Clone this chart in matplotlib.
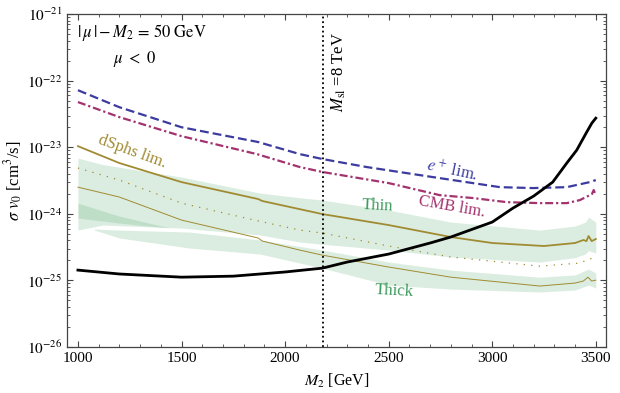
import numpy as np
import matplotlib
matplotlib.use('Agg')
import matplotlib.pyplot as plt
from matplotlib.ticker import MultipleLocator, FixedLocator, FixedFormatter

plt.rcParams['font.family'] = 'serif'
plt.rcParams['font.serif'] = ['Liberation Serif', 'DejaVu Serif']
plt.rcParams['mathtext.fontset'] = 'stix'

# --- data (M2 in GeV, sigma v in cm^3/s) ---
m_pos = [1000, 1200, 1500, 1870, 2071, 2182, 2394, 2713, 3037, 3196, 3360, 3471, 3500]
pos_lim = [7.2e-23, 4.0e-23, 2.0e-23, 1.2e-23, 7.9e-24, 6.65e-24, 5.05e-24, 3.57e-24,
           2.52e-24, 2.44e-24, 2.52e-24, 3.0e-24, 3.22e-24]

m_cmb = [1000, 1200, 1500, 1864, 2071, 2182, 2500, 2747, 2906, 3070, 3230, 3360, 3423,
         3462, 3481, 3490, 3500]
cmb_lim = [4.78e-23, 2.84e-23, 1.47e-23, 7.9e-24, 5.05e-24, 4.25e-24, 2.9e-24, 1.91e-24,
           1.73e-24, 1.5e-24, 1.45e-24, 1.45e-24, 1.61e-24, 1.85e-24, 1.98e-24, 2.28e-24, 1.9e-24]

m_dsph = [1000, 1200, 1500, 1870, 1890, 2180, 2500, 2800, 3000, 3250, 3400, 3440, 3455,
          3465, 3480, 3500]
dsph_lim = [1.04e-23, 5.8e-24, 3.0e-24, 1.67e-24, 1.56e-24, 9.93e-25, 6.79e-25, 4.49e-25,
            3.65e-25, 3.29e-25, 3.65e-25, 4.05e-25, 3.9e-25, 4.65e-25, 3.9e-25, 4.19e-25]

m_dot = [1000, 1200, 1500, 1830, 2070, 2180, 2500, 2800, 3230, 3420, 3470, 3500]
dsph_mid = [4.88e-24, 3.22e-24, 1.45e-24, 8.36e-25, 5.71e-25, 5.15e-25, 3.29e-25, 2.25e-25,
            1.64e-25, 1.82e-25, 2.09e-25, 2.25e-25]

m_low = [1000, 1200, 1500, 1870, 1890, 2070, 2180, 2500, 2800, 3230, 3400, 3440, 3462,
         3480, 3500]
dsph_low = [2.52e-24, 1.79e-24, 8.07e-25, 4.34e-25, 3.91e-25, 2.86e-25, 2.4e-25, 1.59e-25,
            1.12e-25, 8.24e-26, 9.14e-26, 9.8e-26, 1.12e-25, 9.8e-26, 1.01e-25]

m_wino = [1000, 1200, 1500, 1750, 2000, 2180, 2300, 2500, 2700, 2800, 3000, 3100, 3200,
          3292, 3360, 3408, 3456, 3481, 3500]
sigv = [1.43e-25, 1.25e-25, 1.12e-25, 1.16e-25, 1.34e-25, 1.53e-25, 1.89e-25, 2.49e-25,
        3.65e-25, 4.49e-25, 7.53e-25, 1.22e-24, 1.85e-24, 3.0e-24, 5.8e-24, 9.08e-24,
        1.69e-23, 2.31e-23, 2.74e-23]

# "Thin" halo band
m_thin = [1000, 1120, 1500, 1880, 2070, 2180, 2500, 2800, 3230, 3400, 3450, 3465, 3500]
thin_hi = [6.89e-24, 5.5e-24, 3.57e-24, 2.05e-24, 1.75e-24, 1.61e-24, 1.14e-24, 7.53e-25,
           5.71e-25, 6.56e-25, 7.53e-25, 8.95e-25, 7.53e-25]
thin_lo = [5.71e-25, 6.79e-25, 6.12e-25, 4.81e-25, 3.78e-25, 3.5e-25, 2.86e-25, 2.25e-25,
           1.89e-25, 2.2e-25, 2.5e-25, 2.8e-25, 2.58e-25]

# "Thick" halo band (short upper piece + main piece)
m_wedge = [1000, 1200, 1444]
wedge_hi = [1.45e-24, 9.27e-25, 6.12e-25]
wedge_lo = [8.65e-25, 7.27e-25, 6.12e-25]

m_thick = [1080, 1200, 1540, 1880, 2180, 2500, 2800, 3230, 3400, 3465, 3500]
thick_hi = [5.91e-25, 5.71e-25, 5.33e-25, 4.05e-25, 2.86e-25, 1.89e-25, 1.43e-25, 1.12e-25,
            1.21e-25, 1.48e-25, 1.29e-25]
thick_lo = [5.71e-25, 4.34e-25, 3.06e-25, 2.49e-25, 1.53e-25, 8.53e-26, 7.43e-26, 6.7e-26,
            7.18e-26, 8.53e-26, 7.69e-26]

m_sl_line = 2182

y_exps = [-26, -25, -24, -23, -22, -21]
y_ticklabels = [r'$10^{%d}$' % e for e in y_exps]

# --- colours ---
c_pos = '#3c3ca0'
c_cmb = '#a3336f'
c_gold = '#a08b32'
c_band = (0.30, 0.65, 0.40)
c_text_green = '#3d9a5d'

fig = plt.figure(figsize=(6.2, 3.93), dpi=100)
ax = fig.add_axes([0.108, 0.117, 0.869, 0.847])

ax.fill_between(m_thin, thin_lo, thin_hi, color=c_band, alpha=0.2, lw=0)
ax.fill_between(m_wedge, wedge_lo, wedge_hi, color=c_band, alpha=0.2, lw=0)
ax.fill_between(m_thick, thick_lo, thick_hi, color=c_band, alpha=0.2, lw=0)

ax.plot(m_pos, pos_lim, color=c_pos, lw=1.6, ls=(0, (4, 1.8)))
ax.plot(m_cmb, cmb_lim, color=c_cmb, lw=1.6, ls=(0, (3.6, 1.3, 1, 1.3)))
ax.plot(m_dsph, dsph_lim, color=c_gold, lw=1.3)
ax.plot(m_dot, dsph_mid, color=c_gold, lw=0.9, ls=(0, (1, 5)))
ax.plot(m_low, dsph_low, color=c_gold, lw=0.7)
ax.plot(m_wino, sigv, color='black', lw=2.0)
ax.axvline(m_sl_line, color='black', lw=1.3, ls=(0, (1, 1.6)))

ax.set_yscale('log')
ax.set_xlim(947, 3548)
ax.set_ylim(1e-26, 1e-21)

ax.xaxis.set_major_locator(MultipleLocator(500))
ax.xaxis.set_minor_locator(MultipleLocator(100))
major_y = [10.0 ** e for e in y_exps]
minor_y = [k * 10.0 ** e for e in y_exps[:-1] for k in range(2, 10)]
ax.yaxis.set_major_locator(FixedLocator(major_y))
ax.yaxis.set_major_formatter(FixedFormatter(y_ticklabels))
ax.yaxis.set_minor_locator(FixedLocator(minor_y))
ax.yaxis.set_minor_formatter(FixedFormatter([''] * len(minor_y)))
ax.tick_params(which='both', direction='in', top=True, right=True, colors='#444444',
               labelcolor='black', labelsize=11)
ax.tick_params(which='major', length=4, width=0.8)
ax.tick_params(which='minor', length=2, width=0.6)
for sp in ax.spines.values():
    sp.set_color('#444444')
    sp.set_linewidth(0.9)

ax.set_xlabel(r'$M_2$ [GeV]', fontsize=11.5, labelpad=5)
ax.set_ylabel(r'$\sigma\ v_0$ [cm$^3$/s]', fontsize=12, labelpad=1)

ax.text(0.019, 0.946, r'$|\,\mu\,|-M_2\,=\,50\ \mathrm{GeV}$', transform=ax.transAxes,
        fontsize=12, va='center', ha='left')
ax.text(0.085, 0.866, r'$\mu\ <\ 0$', transform=ax.transAxes, fontsize=12,
        va='center', ha='left')
ax.text(0.505, 0.826, r'$M_{\mathrm{sl}}$ =8 TeV', transform=ax.transAxes, fontsize=12,
        rotation=90, va='center', ha='center')
ax.text(0.121, 0.586, 'dSphs lim.', transform=ax.transAxes, fontsize=12, color=c_gold,
        rotation=-20, va='center', ha='center')
ax.text(0.714, 0.529, r'$e^+$ lim.', transform=ax.transAxes, fontsize=12, color=c_pos,
        rotation=-12, va='center', ha='center')
ax.text(0.714, 0.42, 'CMB lim.', transform=ax.transAxes, fontsize=12, color=c_cmb,
        rotation=-10, va='center', ha='center')
ax.text(0.577, 0.423, 'Thin', transform=ax.transAxes, fontsize=12, color=c_text_green,
        rotation=-3, va='center', ha='center')
ax.text(0.607, 0.168, 'Thick', transform=ax.transAxes, fontsize=12, color=c_text_green,
        rotation=-3, va='center', ha='center')

fig.savefig('out.png', dpi=100)
